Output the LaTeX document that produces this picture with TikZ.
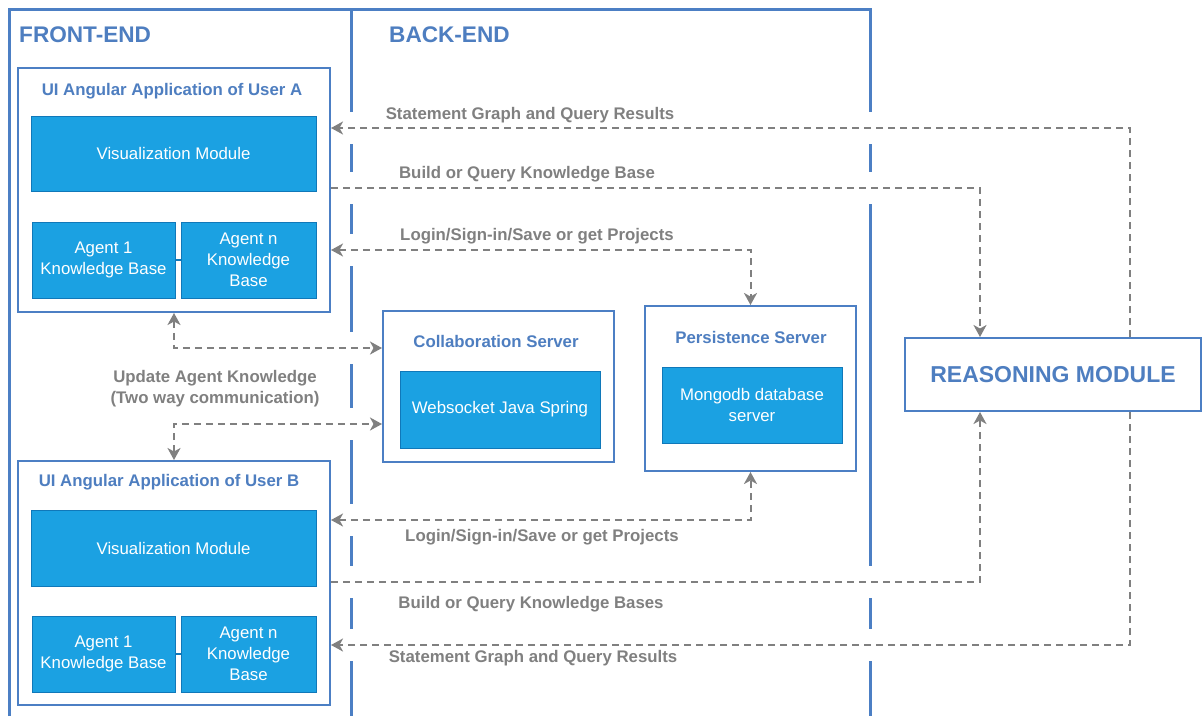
\documentclass[tikz,border=0pt]{standalone}
\usepackage{fontspec}
\setmainfont{Liberation Sans}
\usetikzlibrary{arrows.meta}
\definecolor{frameblue}{RGB}{76,127,196}
\definecolor{titleblue}{RGB}{78,126,192}
\definecolor{boxfill}{RGB}{27,161,226}
\definecolor{boxline}{RGB}{16,120,185}
\definecolor{conngrey}{RGB}{128,128,128}
\begin{document}
\begin{tikzpicture}[x=1pt,y=-1pt,
  >={Stealth[length=12pt,width=13pt,inset=3.5pt]},
  frame/.style={draw=frameblue,line width=3pt,line join=miter},
  group/.style={draw=frameblue,line width=2pt,fill=white,rectangle,inner sep=0pt},
  module/.style={draw=boxline,line width=1pt,fill=boxfill,text=white,font=\fontsize{16.8}{21}\selectfont,align=center,inner sep=0pt,rectangle},
  gtitle/.style={text=titleblue,font=\fontsize{16.8}{20}\selectfont\bfseries,inner sep=0pt},
  head/.style={text=titleblue,font=\fontsize{22.6}{26}\selectfont\bfseries,inner sep=0pt},
  conn/.style={draw=conngrey,line width=2pt,dash pattern=on 7pt off 5pt},
  lbl/.style={text=conngrey,font=\fontsize{16.8}{21}\selectfont\bfseries,align=center,inner sep=0pt},
]
\useasboundingbox (0,0) rectangle (1203,716);
\fill[white] (0,0) rectangle (1203,716);

% frames
\draw[frame] (9,716) -- (9,9) -- (870,9) -- (870,716);
\draw[frame] (351,9) -- (351,716);
\foreach \y in {128,188,250,348,424,520,582,645} \fill[white] (346,\y-16) rectangle (356,\y+16);
\foreach \y in {128,188,582,645} \fill[white] (865,\y-16) rectangle (875,\y+16);

\node[head,anchor=west] (fe) at (19,35) {FRONT-END};
\node[head,anchor=west] (be) at (389,35) {BACK-END};

% UI A
\node[group,minimum width=312pt,minimum height=244pt] (uiA) at (174,190) {};
\node[gtitle] (uiAt) at (172,91) {UI Angular Application of User A};
\node[module,minimum width=285pt,minimum height=75pt] (visA) at (173.5,153.5) {Visualization Module};
\node[module,minimum width=143pt,minimum height=76pt] (ag1A) at (103.5,260) {Agent 1\\Knowledge Base};
\node[module,minimum width=135pt,minimum height=76pt] (agnA) at (248.5,260) {Agent n\\Knowledge\\Base};
\draw[boxline,line width=2pt] (ag1A) -- (agnA);

% UI B
\node[group,minimum width=312pt,minimum height=244pt] (uiB) at (174,583) {};
\node[gtitle] (uiBt) at (169,482) {UI Angular Application of User B};
\node[module,minimum width=285pt,minimum height=76pt] (visB) at (173.5,548) {Visualization Module};
\node[module,minimum width=143pt,minimum height=76pt] (ag1B) at (103.5,654) {Agent 1\\Knowledge Base};
\node[module,minimum width=135pt,minimum height=76pt] (agnB) at (248.5,654) {Agent n\\Knowledge\\Base};
\draw[boxline,line width=2pt] (ag1B) -- (agnB);

% Collaboration server
\node[group,minimum width=231pt,minimum height=151pt] (collab) at (498.5,386.5) {};
\node[gtitle] (collabt) at (496,341) {Collaboration Server};
\node[module,minimum width=200pt,minimum height=77pt] (ws) at (500,409.5) {Websocket Java Spring};

% Persistence server
\node[group,minimum width=211pt,minimum height=165pt] (persist) at (750.5,388.5) {};
\node[gtitle] (persistt) at (751,337) {Persistence Server};
\node[module,minimum width=180pt,minimum height=76pt] (mongo) at (752,405) {Mongodb database\\server};

% Reasoning module
\node[group,minimum width=296pt,minimum height=73pt,text=titleblue,font=\fontsize{23}{27}\selectfont\bfseries] (reason) at (1053,374.5) {REASONING MODULE};

% connectors
\draw[conn,->] (reason.north -| 1130,0) |- (uiA.east |- 0,128);
\draw[conn,->] (uiA.east |- 0,188) -| (reason.north -| 980,0);
\draw[conn,<->] (uiA.east |- 0,250) -| (persist.north);
\draw[conn,<->] (uiA.south) |- (collab.west |- 0,348);
\draw[conn,<->] (uiB.north) |- (collab.west |- 0,424);
\draw[conn,<->] (uiB.east |- 0,520) -| (persist.south);
\draw[conn,->] (uiB.east |- 0,582) -| (reason.south -| 980,0);
\draw[conn,->] (reason.south -| 1130,0) |- (uiB.east |- 0,645);

% labels
\node[lbl] (l1) at (530,115) {Statement Graph and Query Results};
\node[lbl] (l2) at (527,174) {Build or Query Knowledge Base};
\node[lbl] (l3) at (537,236) {Login/Sign-in/Save or get Projects};
\node[lbl] (l4) at (215,389) {Update Agent Knowledge\\(Two way communication)};
\node[lbl] (l5) at (542,537) {Login/Sign-in/Save or get Projects};
\node[lbl] (l6) at (531,604) {Build or Query Knowledge Bases};
\node[lbl] (l7) at (533,658) {Statement Graph and Query Results};
\end{tikzpicture}
\end{document}
